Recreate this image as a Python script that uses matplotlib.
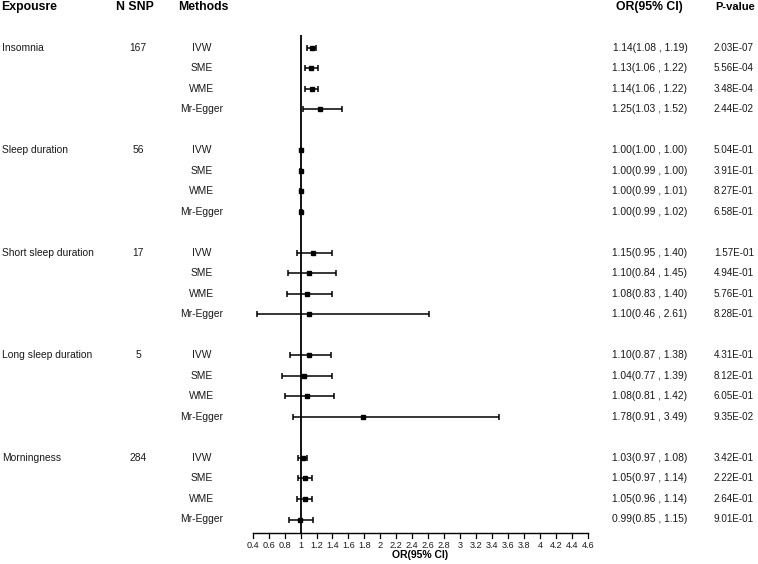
import matplotlib
matplotlib.use("Agg")
import matplotlib.pyplot as plt

plt.rcParams['font.family'] = ['Liberation Sans', 'DejaVu Sans']

exposures = ["Insomnia", "Sleep duration", "Short sleep duration", "Long sleep duration", "Morningness"]
n_snp = ["167", "56", "17", "5", "284"]
methods = ["IVW", "SME", "WME", "Mr-Egger"]

or_vals = [[1.14, 1.13, 1.14, 1.25],
           [1.00, 1.00, 1.00, 1.00],
           [1.15, 1.10, 1.08, 1.10],
           [1.10, 1.04, 1.08, 1.78],
           [1.03, 1.05, 1.05, 0.99]]
ci_low = [[1.08, 1.06, 1.06, 1.03],
          [1.00, 0.99, 0.99, 0.99],
          [0.95, 0.84, 0.83, 0.46],
          [0.87, 0.77, 0.81, 0.91],
          [0.97, 0.97, 0.96, 0.85]]
ci_high = [[1.19, 1.22, 1.22, 1.52],
           [1.00, 1.00, 1.01, 1.02],
           [1.40, 1.45, 1.40, 2.61],
           [1.38, 1.39, 1.42, 3.49],
           [1.08, 1.14, 1.14, 1.15]]
p_values = [["2.03E-07", "5.56E-04", "3.48E-04", "2.44E-02"],
            ["5.04E-01", "3.91E-01", "8.27E-01", "6.58E-01"],
            ["1.57E-01", "4.94E-01", "5.76E-01", "8.28E-01"],
            ["4.31E-01", "8.12E-01", "6.05E-01", "9.35E-02"],
            ["3.42E-01", "2.22E-01", "2.64E-01", "9.01E-01"]]
xticks = [0.4, 0.6, 0.8, 1, 1.2, 1.4, 1.6, 1.8, 2, 2.2, 2.4, 2.6, 2.8, 3,
          3.2, 3.4, 3.6, 3.8, 4, 4.2, 4.4, 4.6]

W, H = 758, 564
fig = plt.figure(figsize=(W / 100, H / 100), dpi=100)
ax = fig.add_axes([0, 0, 1, 1])
ax.axis('off')

# pixel mapping
x0px, x1px = 252.7, 587.7
scale = (x1px - x0px) / (4.6 - 0.4)
def px2x(px):
    return 0.4 + (px - x0px) / scale
y0px, rowh = 7.0, 20.5
def px2r(py):
    return (py - y0px) / rowh

ax.set_xlim(px2x(0), px2x(W))
ax.set_ylim(px2r(H), px2r(0))

fs = 7.4
hfs = 8.8
pfs = 7.1
txt = '#1a1a1a'

# headers
ax.text(px2x(1), 0, "Expousre", fontsize=hfs, fontweight='bold', ha='left', va='center')
ax.text(px2x(135), 0, "N SNP", fontsize=hfs, fontweight='bold', ha='center', va='center')
ax.text(px2x(178), 0, "Methods", fontsize=hfs, fontweight='bold', ha='left', va='center')
ax.text(px2x(649), 0, "OR(95% CI)", fontsize=hfs, fontweight='bold', ha='center', va='center')
ax.text(px2x(715), 0, "P-value", fontsize=8.0, fontweight='bold', ha='left', va='center')

axis_row = px2r(533)
ax.plot([1, 1], [px2r(35), axis_row], color='black', lw=1.3, solid_capstyle='butt')

for g, exp in enumerate(exposures):
    base = 2 + g * 5
    ax.text(px2x(2), base, exp, fontsize=fs, ha='left', va='center', color=txt)
    ax.text(px2x(138), base, n_snp[g], fontsize=fs, ha='center', va='center', color=txt)
    for m, meth in enumerate(methods):
        r = base + m
        ax.text(px2x(202), r, meth, fontsize=fs, ha='center', va='center', color=txt)
        o, lo, hi = or_vals[g][m], ci_low[g][m], ci_high[g][m]
        ax.text(px2x(650), r, f"{o:.2f}({lo:.2f} , {hi:.2f})", fontsize=fs,
                ha='center', va='center', color=txt)
        ax.text(px2x(714), r, p_values[g][m], fontsize=pfs, ha='left', va='center',
                color=txt)
        ax.errorbar([o], [r], xerr=[[o - lo], [hi - o]], fmt='s', color='black',
                    ms=3.5, elinewidth=1.1, capsize=2.5, capthick=1.1)

# x axis
ax.plot([0.4, 4.6], [axis_row, axis_row], color='black', lw=1.0)
tick_len = px2r(538) - axis_row
for t in xticks:
    ax.plot([t, t], [axis_row, axis_row + tick_len], color='black', lw=0.9)
    ax.text(t, px2r(545), f"{t:g}", fontsize=6.6, ha='center', va='center', color=txt)
ax.text(2.5, px2r(555.5), "OR(95% CI)", fontsize=7.5, fontweight='bold', ha='center', va='center')

fig.savefig("out.png", dpi=100)
